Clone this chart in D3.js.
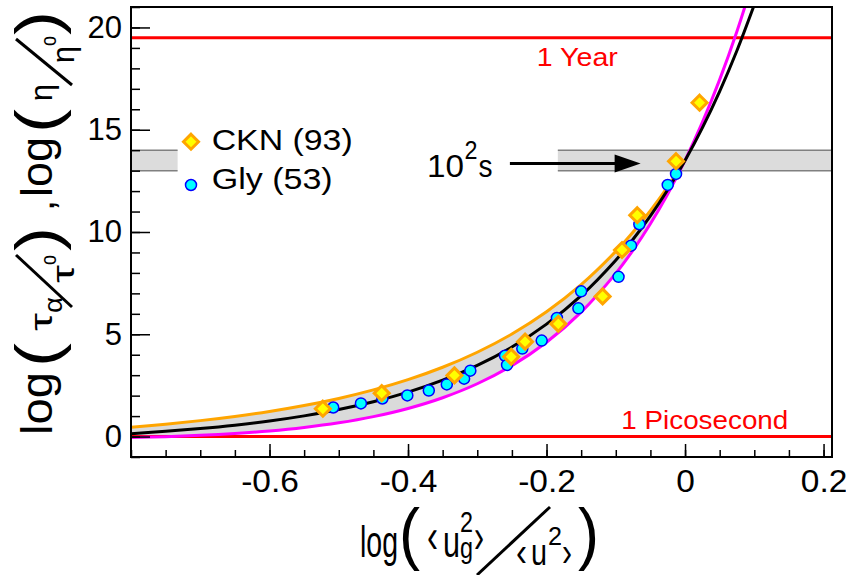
<!DOCTYPE html>
<html>
<head>
<meta charset="utf-8">
<script src="https://cdn.jsdelivr.net/npm/d3@7"></script>
<style>
  body { margin: 0; background: #fff; }
  svg text { font-family: "Liberation Sans", Arial, Helvetica, sans-serif; fill: #000; }
</style>
</head>
<body>
<div id="chart"></div>
<script>
// grid of log(<ug2>/<u2>) for the fitted curves
var xGrid = [-0.8, -0.75, -0.7, -0.65, -0.6, -0.55, -0.5, -0.45, -0.4, -0.35, -0.3, -0.25,
             -0.2, -0.15, -0.1, -0.075, -0.05, -0.025, 0, 0.025, 0.05, 0.075, 0.1];
// master curve (black), lower bound (magenta), upper bound (orange, stops at 0)
var blackFit   = [0.142, 0.253, 0.389, 0.555, 0.759, 1.010, 1.318, 1.699, 2.170, 2.754, 3.478, 4.377,
                  5.495, 6.888, 8.624, 9.647, 10.790, 12.068, 13.496, 15.093, 16.879, 18.876, 21.110];
var magentaFit = [-0.047, -0.004, 0.058, 0.148, 0.272, 0.442, 0.670, 0.973, 1.373, 1.898, 2.581, 3.467,
                  4.612, 6.086, 7.979, 9.116, 10.403, 11.857, 13.500, 15.356, 17.451, 19.816, 22.484];
var orangeFit  = [0.458, 0.605, 0.778, 0.983, 1.226, 1.516, 1.863, 2.280, 2.782, 3.388, 4.122, 5.013,
                  6.100, 7.427, 9.052, 9.998, 11.046, 12.209, 13.500];

// CKN data points
var cknX = [-0.523, -0.438, -0.333, -0.251, -0.231, -0.183, -0.119, -0.091, -0.069, -0.013, 0.021];
var cknY = [1.36, 2.12, 2.99, 3.90, 4.64, 5.51, 6.85, 9.12, 10.82, 13.46, 16.32];
// Glycerol data points
var glyX = [-0.508, -0.468, -0.437, -0.401, -0.370, -0.344, -0.319, -0.310, -0.260, -0.257,
            -0.235, -0.207, -0.185, -0.154, -0.150, -0.096, -0.078, -0.066, -0.025, -0.013];
var glyY = [1.42, 1.62, 1.86, 2.01, 2.25, 2.55, 2.83, 3.22, 3.95, 3.50,
            4.30, 4.69, 5.80, 6.27, 7.10, 7.81, 9.33, 10.38, 12.30, 12.84];

var legendLabels = ["CKN (93)", "Gly (53)"];
var xTickLabels = [-0.6, -0.4, -0.2, 0, 0.2];
var yTickLabels = [0, 5, 10, 15, 20];

// reference levels: 1 ps and 1 year, 10^2 s band
var refLevels = [0, 19.5];
var bandLow = 13, bandHigh = 14;
var bandSegments = [[-0.8, -0.7327], [-0.1837, 0.2122]];
var arrowX = [-0.2529, -0.0641], arrowY = 13.35;

var W = 846, H = 575;
var padL = 131, padR = 832, padT = 7, padB = 457;

var svg = d3.select("#chart").append("svg")
    .attr("width", W)
    .attr("height", H);

var x = d3.scaleLinear().domain([-0.8, 0.2122]).range([padL, padR]);
var y = d3.scaleLinear().domain([-1, 21]).range([padB, padT]);

svg.append("clipPath").attr("id", "plotclip")
  .append("rect")
    .attr("x", padL).attr("y", padT)
    .attr("width", padR - padL).attr("height", padB - padT);

var plot = svg.append("g").attr("clip-path", "url(#plotclip)");

// shaded band between the bounds
var bandData = orangeFit.map(function(v, i) { return {x: xGrid[i], hi: v, lo: magentaFit[i]}; });
plot.append("path")
    .datum(bandData)
    .attr("fill", "#dadada")
    .attr("d", d3.area()
        .x(function(d) { return x(d.x); })
        .y0(function(d) { return y(d.lo); })
        .y1(function(d) { return y(d.hi); })
        .curve(d3.curveCatmullRom));

// 10^2 s band
bandSegments.forEach(function(s) {
  plot.append("rect")
      .attr("x", x(s[0])).attr("width", x(s[1]) - x(s[0]))
      .attr("y", y(bandHigh)).attr("height", y(bandLow) - y(bandHigh))
      .attr("fill", "#dcdcdc");
  [bandLow, bandHigh].forEach(function(v) {
    plot.append("line")
        .attr("x1", x(s[0])).attr("x2", x(s[1]))
        .attr("y1", y(v)).attr("y2", y(v))
        .attr("stroke", "#808080").attr("stroke-width", 1.5);
  });
});

// red reference lines
plot.selectAll("line.ref")
  .data(refLevels)
  .enter()
  .append("line")
    .attr("class", "ref")
    .attr("x1", padL).attr("x2", padR)
    .attr("y1", function(d) { return y(d); })
    .attr("y2", function(d) { return y(d); })
    .attr("stroke", "#ff0000")
    .attr("stroke-width", 3);

var line = d3.line()
    .x(function(d) { return x(d[0]); })
    .y(function(d) { return y(d[1]); })
    .curve(d3.curveCatmullRom);

plot.append("path")
    .datum(orangeFit.map(function(v, i) { return [xGrid[i], v]; }))
    .attr("fill", "none").attr("stroke", "#ffa500").attr("stroke-width", 3)
    .attr("d", line);
plot.append("path")
    .datum(magentaFit.map(function(v, i) { return [xGrid[i], v]; }))
    .attr("fill", "none").attr("stroke", "#ff00ff").attr("stroke-width", 3)
    .attr("d", line);
plot.append("path")
    .datum(blackFit.map(function(v, i) { return [xGrid[i], v]; }))
    .attr("fill", "none").attr("stroke", "#000").attr("stroke-width", 3)
    .attr("d", line);

// data points
var diamond = "M0,-7.5L7.5,0L0,7.5L-7.5,0Z";
plot.selectAll("circle.gly")
  .data(glyX.map(function(v, i) { return [v, glyY[i]]; }))
  .enter()
  .append("circle")
    .attr("class", "gly")
    .attr("cx", function(d) { return x(d[0]); })
    .attr("cy", function(d) { return y(d[1]); })
    .attr("r", 5.5)
    .attr("fill", "#00ffff").attr("stroke", "#0000ff").attr("stroke-width", 1.5);

plot.selectAll("path.ckn")
  .data(cknX.map(function(v, i) { return [v, cknY[i]]; }))
  .enter()
  .append("path")
    .attr("class", "ckn")
    .attr("d", diamond)
    .attr("transform", function(d) { return "translate(" + x(d[0]) + "," + y(d[1]) + ")"; })
    .attr("fill", "#ffff00").attr("stroke", "#ffa500").attr("stroke-width", 3);

// arrow
svg.append("line")
    .attr("x1", x(arrowX[0])).attr("x2", x(arrowX[1]) - 20)
    .attr("y1", y(arrowY)).attr("y2", y(arrowY))
    .attr("stroke", "#000").attr("stroke-width", 3);
svg.append("path")
    .attr("d", "M" + x(arrowX[1]) + "," + y(arrowY) + "l-26,-9l0,18z")
    .attr("fill", "#000");

function txt(g, s, tx, ty, size, len) {
  var t = g.append("text").attr("x", tx).attr("y", ty)
      .style("font-size", size + "px").text(s);
  if (len) t.attr("textLength", len).attr("lengthAdjust", "spacingAndGlyphs");
  return t;
}

txt(svg, "10", 427, 177, 32, 37);
txt(svg, "2", 464.5, 159, 25, 13);
txt(svg, "s", 478.5, 177, 32, 14);

txt(svg, "1 Year", 536.8, 66, 26, 81).style("fill", "#ff0000");
txt(svg, "1 Picosecond", 621.3, 429, 26, 167).style("fill", "#ff0000");

// legend
svg.append("path")
    .attr("d", diamond)
    .attr("transform", "translate(191,141.7)")
    .attr("fill", "#ffff00").attr("stroke", "#ffa500").attr("stroke-width", 3);
svg.append("circle")
    .attr("cx", 191).attr("cy", 185).attr("r", 5.5)
    .attr("fill", "#00ffff").attr("stroke", "#0000ff").attr("stroke-width", 1.5);
txt(svg, legendLabels[0], 211.7, 150, 30, 141);
txt(svg, legendLabels[1], 211.7, 189, 30, 121);

// axes
var xAxis = svg.append("g")
    .attr("transform", "translate(0," + padB + ")")
    .call(d3.axisBottom(x).tickValues(xTickLabels).tickSize(-13).tickPadding(13)
          .tickFormat(function(d) { return String(d); }));
var xMinor = svg.append("g")
    .attr("transform", "translate(0," + padB + ")")
    .call(d3.axisBottom(x).ticks(20).tickSize(-7).tickFormat(""));
var yAxis = svg.append("g")
    .attr("transform", "translate(" + padL + ",0)")
    .call(d3.axisLeft(y).tickValues(yTickLabels).tickSize(-19).tickPadding(9));
var yMinor = svg.append("g")
    .attr("transform", "translate(" + padL + ",0)")
    .call(d3.axisLeft(y).ticks(22).tickSize(-9).tickFormat(""));

[xAxis, xMinor, yAxis, yMinor].forEach(function(a) {
  a.select(".domain").remove();
  a.selectAll("line").attr("stroke", "#000").attr("stroke-width", 1.5);
  a.selectAll("text").style("font-size", "31px").attr("fill", "#000")
      .style("font-family", "'Liberation Sans', Arial, sans-serif");
});
xAxis.selectAll("text").attr("transform", "scale(1.08,1)");

// frame
svg.append("rect")
    .attr("x", padL).attr("y", padT)
    .attr("width", padR - padL).attr("height", padB - padT)
    .attr("fill", "none").attr("stroke", "#000").attr("stroke-width", 2);

// x title: log( <u_g^2> / <u^2> )
var xt = svg.append("g");
txt(xt, "log", 360, 557, 44, 38);
txt(xt, "(", 399, 557, 69, 21);
txt(xt, "\u2039", 427, 552, 48, 11);
txt(xt, "u", 443, 557, 44, 17);
txt(xt, "2", 460, 532, 30, 13);
txt(xt, "g", 460, 558, 30, 13);
txt(xt, "\u203A", 474, 552, 48, 10);
xt.append("line").attr("x1", 477).attr("y1", 575).attr("x2", 550).attr("y2", 507)
    .attr("stroke", "#000").attr("stroke-width", 3);
txt(xt, "\u2039", 516, 566, 40, 11);
txt(xt, "u", 531, 565, 36, 16);
txt(xt, "2", 548, 545, 26, 14);
txt(xt, "\u203A", 562, 566, 40, 10);
txt(xt, ")", 578, 557, 69, 21);

// y title: log(tau_a / tau_o) , log(eta / eta_o)
var yt = svg.append("g").attr("transform", "translate(52,435) rotate(-90)");
txt(yt, "log", 0, 0, 44, 63);
txt(yt, "(", 68, 6, 62, 24);
txt(yt, "\u03C4", 104, 0, 32, 18);
txt(yt, "\u03B1", 122, 10, 26, 16);
yt.append("line").attr("x1", 128).attr("y1", 20).attr("x2", 180).attr("y2", -36)
    .attr("stroke", "#000").attr("stroke-width", 3);
txt(yt, "\u03C4", 152, 22, 32, 18);
txt(yt, "o", 170, 4, 22, 10);
txt(yt, ")", 184, 6, 62, 24);
txt(yt, ",", 224, 2, 40);
txt(yt, "log", 238, 0, 44, 60);
txt(yt, "(", 302, 6, 62, 24);
txt(yt, "\u03B7", 334, 0, 32, 17);
yt.append("line").attr("x1", 350).attr("y1", 20).attr("x2", 396).attr("y2", -36)
    .attr("stroke", "#000").attr("stroke-width", 3);
txt(yt, "\u03B7", 372, 22, 32, 17);
txt(yt, "o", 389, 4, 22, 10);
txt(yt, ")", 400, 6, 62, 24);
</script>
</body>
</html>
